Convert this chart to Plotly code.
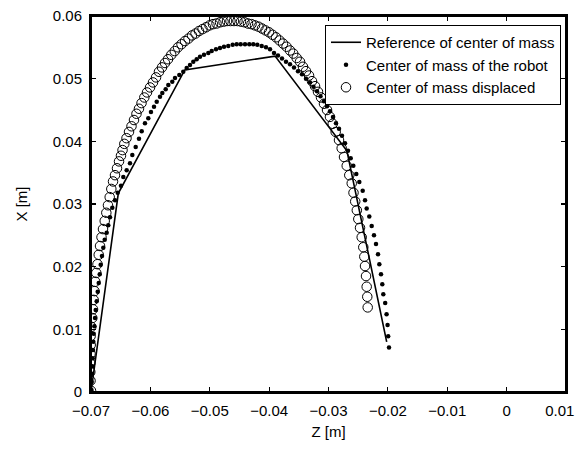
import plotly.graph_objects as go

# Reference of center of mass (Z, X) in metres
ref_z = [-0.0700, -0.0654, -0.0542, -0.0390, -0.0269, -0.0202]
ref_x = [0.0000, 0.0317, 0.0514, 0.0536, 0.0385, 0.0080]

# Center of mass of the robot
robot_z = [-0.06992, -0.06988, -0.06983, -0.06975, -0.06971, -0.06966, -0.06961, -0.06955, -0.06944, -0.06933,
           -0.06921, -0.06904, -0.06887, -0.06870, -0.06853, -0.06837, -0.06815, -0.06793, -0.06769, -0.06736,
           -0.06709, -0.06680, -0.06641, -0.06596, -0.06550, -0.06495, -0.06456, -0.06399, -0.06343, -0.06304,
           -0.06247, -0.06192, -0.06146, -0.06091, -0.06035, -0.05990, -0.05939, -0.05893, -0.05838, -0.05799,
           -0.05742, -0.05698, -0.05631, -0.05585, -0.05513, -0.05446, -0.05388, -0.05333, -0.05277, -0.05220,
           -0.05164, -0.05097, -0.05024, -0.04967, -0.04895, -0.04827, -0.04760, -0.04688, -0.04614, -0.04546,
           -0.04479, -0.04406, -0.04334, -0.04267, -0.04199, -0.04125, -0.04053, -0.03985, -0.03918, -0.03851,
           -0.03783, -0.03716, -0.03648, -0.03581, -0.03514, -0.03446, -0.03379, -0.03312, -0.03253, -0.03194,
           -0.03135, -0.03076, -0.03025, -0.02975, -0.02924, -0.02874, -0.02823, -0.02773, -0.02722, -0.02672,
           -0.02626, -0.02582, -0.02532, -0.02481, -0.02424, -0.02385, -0.02357, -0.02313, -0.02273, -0.02234,
           -0.02200, -0.02166, -0.02144, -0.02116, -0.02094, -0.02077, -0.02045, -0.02022, -0.02005, -0.01995,
           -0.01981]
robot_x = [0.0003, 0.0016, 0.0029, 0.0041, 0.0054, 0.0067, 0.0080, 0.0093, 0.0105, 0.0118,
           0.0131, 0.0145, 0.0160, 0.0174, 0.0188, 0.0203, 0.0217, 0.0230, 0.0243, 0.0254,
           0.0266, 0.0279, 0.0294, 0.0306, 0.0318, 0.0329, 0.0343, 0.0354, 0.0365, 0.0378,
           0.0391, 0.0404, 0.0416, 0.0429, 0.0437, 0.0447, 0.0455, 0.0463, 0.0471, 0.0477,
           0.0483, 0.0490, 0.0495, 0.0501, 0.0506, 0.0511, 0.0517, 0.0522, 0.0527, 0.0531,
           0.0535, 0.0538, 0.0541, 0.0544, 0.0547, 0.0549, 0.0551, 0.0552, 0.0554, 0.0555,
           0.0555, 0.0555, 0.0555, 0.0555, 0.0554, 0.0552, 0.0550, 0.0547, 0.0541, 0.0537,
           0.0532, 0.0527, 0.0523, 0.0518, 0.0512, 0.0507, 0.0500, 0.0494, 0.0487, 0.0480,
           0.0472, 0.0464, 0.0456, 0.0448, 0.0439, 0.0429, 0.0420, 0.0409, 0.0397, 0.0385,
           0.0373, 0.0361, 0.0348, 0.0335, 0.0321, 0.0306, 0.0293, 0.0280, 0.0265, 0.0250,
           0.0236, 0.0220, 0.0204, 0.0188, 0.0172, 0.0156, 0.0142, 0.0124, 0.0107, 0.0089,
           0.0071]

# Center of mass displaced
disp_z = [-0.07000, -0.07008, -0.07012, -0.07012, -0.07008, -0.07005, -0.07007, -0.06995, -0.06978, -0.06966,
          -0.06955, -0.06941, -0.06928, -0.06911, -0.06891, -0.06870, -0.06848, -0.06823, -0.06798, -0.06769,
          -0.06742, -0.06714, -0.06685, -0.06658, -0.06629, -0.06596, -0.06562, -0.06528, -0.06495, -0.06469,
          -0.06439, -0.06402, -0.06360, -0.06318, -0.06276, -0.06234, -0.06192, -0.06149, -0.06102, -0.06057,
          -0.06006, -0.05956, -0.05905, -0.05855, -0.05804, -0.05754, -0.05703, -0.05648, -0.05590, -0.05535,
          -0.05476, -0.05417, -0.05358, -0.05299, -0.05240, -0.05181, -0.05122, -0.05063, -0.05004, -0.04945,
          -0.04886, -0.04827, -0.04768, -0.04709, -0.04651, -0.04592, -0.04533, -0.04474, -0.04415, -0.04356,
          -0.04297, -0.04238, -0.04179, -0.04120, -0.04061, -0.04002, -0.03943, -0.03884, -0.03825, -0.03766,
          -0.03707, -0.03648, -0.03593, -0.03536, -0.03480, -0.03430, -0.03379, -0.03328, -0.03278, -0.03227,
          -0.03177, -0.03126, -0.03076, -0.03025, -0.02975, -0.02929, -0.02879, -0.02823, -0.02778, -0.02739,
          -0.02693, -0.02650, -0.02609, -0.02579, -0.02550, -0.02523, -0.02498, -0.02469, -0.02441, -0.02414,
          -0.02397, -0.02385, -0.02368, -0.02357, -0.02347, -0.02340]
disp_x = [0.0002, 0.0018, 0.0032, 0.0046, 0.0061, 0.0075, 0.0089, 0.0104, 0.0118, 0.0132,
          0.0147, 0.0161, 0.0176, 0.0190, 0.0204, 0.0219, 0.0233, 0.0247, 0.0260, 0.0273,
          0.0286, 0.0298, 0.0311, 0.0324, 0.0336, 0.0346, 0.0357, 0.0368, 0.0377, 0.0386,
          0.0396, 0.0405, 0.0415, 0.0424, 0.0434, 0.0444, 0.0452, 0.0461, 0.0470, 0.0478,
          0.0486, 0.0494, 0.0502, 0.0511, 0.0518, 0.0525, 0.0531, 0.0538, 0.0544, 0.0550,
          0.0555, 0.0560, 0.0564, 0.0569, 0.0572, 0.0576, 0.0579, 0.0582, 0.0585, 0.0587,
          0.0588, 0.0590, 0.0591, 0.0592, 0.0592, 0.0592, 0.0592, 0.0591, 0.0590, 0.0588,
          0.0587, 0.0585, 0.0583, 0.0580, 0.0577, 0.0574, 0.0570, 0.0566, 0.0561, 0.0556,
          0.0551, 0.0545, 0.0540, 0.0533, 0.0527, 0.0519, 0.0512, 0.0505, 0.0496, 0.0488,
          0.0479, 0.0470, 0.0460, 0.0450, 0.0439, 0.0428, 0.0415, 0.0402, 0.0389, 0.0375,
          0.0361, 0.0346, 0.0333, 0.0318, 0.0304, 0.0290, 0.0276, 0.0262, 0.0247, 0.0231,
          0.0216, 0.0201, 0.0185, 0.0168, 0.0152, 0.0135]

x_ticks = [-0.07, -0.06, -0.05, -0.04, -0.03, -0.02, -0.01, 0, 0.01]
x_tick_labels = ["\u22120.07", "\u22120.06", "\u22120.05", "\u22120.04", "\u22120.03",
                 "\u22120.02", "\u22120.01", "0", "0.01\u00a0\u00a0\u00a0"]
y_ticks = [0, 0.01, 0.02, 0.03, 0.04, 0.05, 0.06]
y_tick_labels = ["0", "0.01", "0.02", "0.03", "0.04", "0.05", "0.06"]
x_range = [-0.07, 0.01]
y_range = [0, 0.06]

FONT = "Liberation Sans, Arial, Helvetica, sans-serif"

fig = go.Figure()
fig.add_trace(go.Scatter(x=ref_z, y=ref_x, mode="lines", name="Reference of center of mass",
                         line=dict(color="black", width=1.6)))
fig.add_trace(go.Scatter(x=robot_z, y=robot_x, mode="markers", name="Center of mass of the robot",
                         marker=dict(color="black", size=4.5, symbol="circle")))
fig.add_trace(go.Scatter(x=disp_z, y=disp_x, mode="markers", name="Center of mass displaced",
                         marker=dict(color="black", size=9.5, symbol="circle-open",
                                     line=dict(width=1, color="black"))))
# empty trace so that the mirrored top/right axes are rendered
fig.add_trace(go.Scatter(x=[], y=[], xaxis="x2", yaxis="y2", showlegend=False, hoverinfo="skip"))

axis_common = dict(showgrid=False, zeroline=False, showline=True, linecolor="black", linewidth=2,
                   ticks="inside", ticklen=5, tickwidth=1.2, tickcolor="black",
                   automargin=False,
                   tickfont=dict(family=FONT, size=15, color="black"),
                   title_font=dict(family=FONT, size=15, color="black"))

fig.update_layout(
    xaxis=dict(range=x_range, tickvals=x_ticks, ticktext=x_tick_labels, ticklabelstandoff=4,
               ticklabeloverflow="allow",
               title=dict(text="Z [m]", standoff=8), **axis_common),
    yaxis=dict(range=y_range, tickvals=y_ticks, ticktext=y_tick_labels, ticklabelstandoff=4,
               title=dict(text="X [m]", standoff=22), **axis_common),
    xaxis2=dict(range=x_range, tickvals=x_ticks, showticklabels=False, overlaying="x",
                side="top", anchor="y2", **axis_common),
    yaxis2=dict(range=y_range, tickvals=y_ticks, showticklabels=False, overlaying="y",
                side="right", anchor="x2", **axis_common),
    shapes=[dict(type="rect", xref="paper", yref="paper", x0=0, x1=1, y0=0, y1=1,
                 line=dict(color="black", width=2), fillcolor="rgba(0,0,0,0)", layer="above")],
)

fig.update_layout(
    width=578, height=450,
    margin=dict(l=91, r=12, t=16, b=58, autoexpand=False),
    paper_bgcolor="white", plot_bgcolor="white",
    font=dict(family=FONT, size=15, color="black"),
    legend=dict(x=0.9895, y=0.976, xanchor="right", yanchor="top",
                bgcolor="white", bordercolor="black", borderwidth=1,
                font=dict(family=FONT, size=15, color="black"),
                tracegroupgap=0, itemsizing="trace"),
    showlegend=True,
)

fig.write_html("out.html",
               config={"displayModeBar": False, "staticPlot": True},
               post_script=("document.documentElement.style.overflow='hidden';"
                            "document.body.style.overflow='hidden';"
                            "document.body.style.margin='0';document.body.style.padding='0';"))
